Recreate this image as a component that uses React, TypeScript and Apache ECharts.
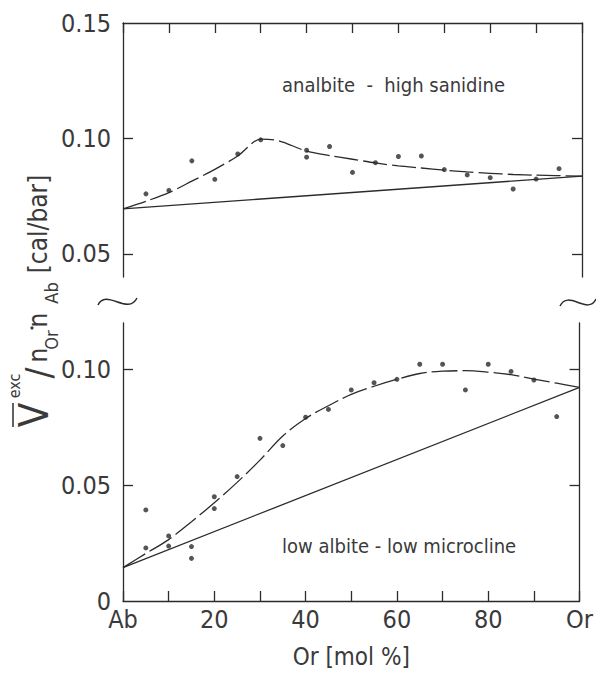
import React, { useEffect, useRef } from "react";
import * as echarts from "echarts";

// ---- data ----
const xLabelValues = [0, 20, 40, 60, 80, 100];
const xLabelNames = ["Ab", "20", "40", "60", "80", "Or"];
const topYLabelValues = [0.05, 0.1, 0.15];
const botYLabelValues = [0, 0.05, 0.1];
const yTickValues = [0.05, 0.1];

// analbite - high sanidine (upper panel)
const topPtsX = [5, 10, 15, 20, 25, 30, 40, 40, 45, 50, 55, 60, 65, 70, 75, 80, 85, 90, 95];
const topPtsY = [0.076, 0.0775, 0.0903, 0.0823, 0.0933, 0.0994, 0.0949, 0.0919, 0.0965, 0.0853, 0.0895, 0.0922, 0.0924, 0.0865, 0.0842, 0.083, 0.0781, 0.0824, 0.0869];
const topCurveX = [0, 5, 10, 15, 20, 25, 30, 33, 35, 40, 45, 50, 55, 60, 65, 70, 75, 80, 85, 90, 100];
const topCurveY = [0.0695, 0.0728, 0.0765, 0.0815, 0.0866, 0.0924, 0.0997, 0.0994, 0.0983, 0.0945, 0.0926, 0.091, 0.0894, 0.0881, 0.0872, 0.0863, 0.0855, 0.0849, 0.0844, 0.0841, 0.0837];
const topLineX = [0, 100];
const topLineY = [0.0695, 0.0837];

// low albite - low microcline (lower panel)
const botPtsX = [5, 5, 10, 10, 15, 15, 20, 20, 25, 30, 35, 40, 45, 50, 55, 60, 65, 70, 75, 80, 85, 90, 95];
const botPtsY = [0.0393, 0.0229, 0.0281, 0.0237, 0.0235, 0.0184, 0.045, 0.0399, 0.0537, 0.0702, 0.0671, 0.0793, 0.0827, 0.0911, 0.0942, 0.0957, 0.1022, 0.1022, 0.0911, 0.1022, 0.0991, 0.0954, 0.0796];
const botCurveX = [0, 5, 10, 15, 20, 25, 30, 35, 40, 45, 50, 55, 60, 65, 70, 75, 80, 85, 90, 95, 100];
const botCurveY = [0.0144, 0.0205, 0.0265, 0.0342, 0.0424, 0.0512, 0.0608, 0.0712, 0.0788, 0.0843, 0.0892, 0.0927, 0.0957, 0.0982, 0.0992, 0.0994, 0.0988, 0.0977, 0.0958, 0.094, 0.0922];
const botLineX = [0, 100];
const botLineY = [0.0144, 0.0922];

const zip = (xs: number[], ys: number[]) => xs.map((x, i) => [x, ys[i]]);

const FONT = "'DejaVu Sans Condensed', 'Liberation Sans Narrow', 'DejaVu Sans', sans-serif";
const INK = "#2b2b2b";
const TXT = "#3a3a3a";

export default function App() {
  const ref = useRef<HTMLDivElement>(null);
  useEffect(() => {
    if (!ref.current) return;
    const chart = echarts.init(ref.current, null, { renderer: "svg" });
    const axisLine = { show: true, onZero: false, lineStyle: { color: INK, width: 1.3 } };
    const tick = { show: true, inside: true, length: 10, lineStyle: { color: INK, width: 1.3 } };
    const yTick = { ...tick, customValues: yTickValues };
    const lblStyle = { color: TXT, fontFamily: FONT, fontSize: 25 };
    const fmt2 = (v: number) => (v === 0 ? "0" : v.toFixed(2));

    const rot = (text: string, x: number, y: number, size: number) => ({
      type: "text",
      x,
      y,
      rotation: Math.PI / 2,
      style: { text, fontSize: size, fontFamily: FONT, fill: TXT, align: "center", verticalAlign: "middle" },
    });

    const option: any = {
      animation: false,
      grid: [
        { left: 123, top: 23, width: 459, height: 254 },
        { left: 123, top: 323, width: 459, height: 278 },
      ],
      xAxis: [
        {
          gridIndex: 0, type: "value", min: 0, max: 100, interval: 10, position: "top",
          axisLine, axisTick: tick, axisLabel: { show: false }, splitLine: { show: false },
        },
        {
          gridIndex: 1, type: "value", min: 0, max: 100, interval: 10, position: "bottom",
          axisLine, axisTick: tick, splitLine: { show: false },
          axisLabel: {
            ...lblStyle, margin: 6, customValues: xLabelValues,
            formatter: (v: number) => xLabelNames[xLabelValues.indexOf(v)] ?? String(v),
          },
          name: "Or [mol %]", nameLocation: "middle", nameGap: 44,
          nameTextStyle: { color: TXT, fontFamily: FONT, fontSize: 24 },
        },
      ],
      yAxis: [
        {
          gridIndex: 0, type: "value", min: 0.04, max: 0.15, position: "left",
          axisLine, axisTick: yTick, splitLine: { show: false },
          axisLabel: { ...lblStyle, margin: 12, customValues: topYLabelValues, formatter: fmt2 },
        },
        {
          gridIndex: 0, type: "value", min: 0.04, max: 0.15, position: "right",
          axisLine, axisTick: yTick, splitLine: { show: false }, axisLabel: { show: false },
        },
        {
          gridIndex: 1, type: "value", min: 0, max: 0.12, position: "left",
          axisLine, axisTick: yTick, splitLine: { show: false },
          axisLabel: { ...lblStyle, margin: 12, customValues: botYLabelValues, formatter: fmt2 },
        },
        {
          gridIndex: 1, type: "value", min: 0, max: 0.12, position: "right",
          axisLine, axisTick: yTick, splitLine: { show: false }, axisLabel: { show: false },
        },
      ],
      series: [
        {
          type: "scatter", xAxisIndex: 0, yAxisIndex: 0, data: zip(topPtsX, topPtsY),
          symbol: "circle", symbolSize: 5, itemStyle: { color: INK },
        },
        {
          type: "line", xAxisIndex: 0, yAxisIndex: 0, data: zip(topCurveX, topCurveY),
          smooth: 0.3, showSymbol: false, lineStyle: { color: INK, width: 1.3, type: [24, 5] },
        },
        {
          type: "line", xAxisIndex: 0, yAxisIndex: 0, data: zip(topLineX, topLineY),
          showSymbol: false, lineStyle: { color: INK, width: 1.3 },
        },
        {
          type: "scatter", xAxisIndex: 1, yAxisIndex: 2, data: zip(botPtsX, botPtsY),
          symbol: "circle", symbolSize: 5, itemStyle: { color: INK },
        },
        {
          type: "line", xAxisIndex: 1, yAxisIndex: 2, data: zip(botCurveX, botCurveY),
          smooth: 0.35, showSymbol: false, lineStyle: { color: INK, width: 1.3, type: [26, 5] },
        },
        {
          type: "line", xAxisIndex: 1, yAxisIndex: 2, data: zip(botLineX, botLineY),
          showSymbol: false, lineStyle: { color: INK, width: 1.3 },
        },
      ],
      graphic: [
        {
          type: "text", left: 282, top: 75,
          style: { text: "analbite  -  high sanidine", fontSize: 20, fontFamily: FONT, fill: TXT },
        },
        {
          type: "text", left: 282, top: 536,
          style: { text: "low albite - low microcline", fontSize: 20, fontFamily: FONT, fill: TXT },
        },
        // y-axis title parts
        rot("[cal/bar]", 38, 224, 26),
        rot("Ab", 51, 293, 18),
        rot("n", 38, 320, 26),
        { type: "circle", shape: { cx: 32, cy: 328, r: 1.6 }, style: { fill: TXT } },
        rot("Or", 51, 340, 18),
        rot("n", 38, 355, 26),
        rot("/", 38, 373, 36),
        rot("exc", 14, 386, 16),
        rot("V", 34, 415, 40),
        { type: "line", shape: { x1: 13, y1: 403, x2: 13, y2: 427 }, style: { stroke: TXT, lineWidth: 1.6 } },
        // axis-break tildes
        {
          type: "bezierCurve",
          shape: { x1: 98, y1: 305, cpx1: 106, cpy1: 288, cpx2: 128, cpy2: 316, x2: 137, y2: 298 },
          style: { stroke: INK, lineWidth: 1.5, fill: null },
        },
        {
          type: "bezierCurve",
          shape: { x1: 560, y1: 306, cpx1: 568, cpy1: 289, cpx2: 588, cpy2: 316, x2: 596, y2: 299 },
          style: { stroke: INK, lineWidth: 1.5, fill: null },
        },
      ],
    };
    chart.setOption(option);
    return () => chart.dispose();
  }, []);
  return <div ref={ref} style={{ position: "absolute", left: 0, top: 0, width: 596, height: 673 }} />;
}
